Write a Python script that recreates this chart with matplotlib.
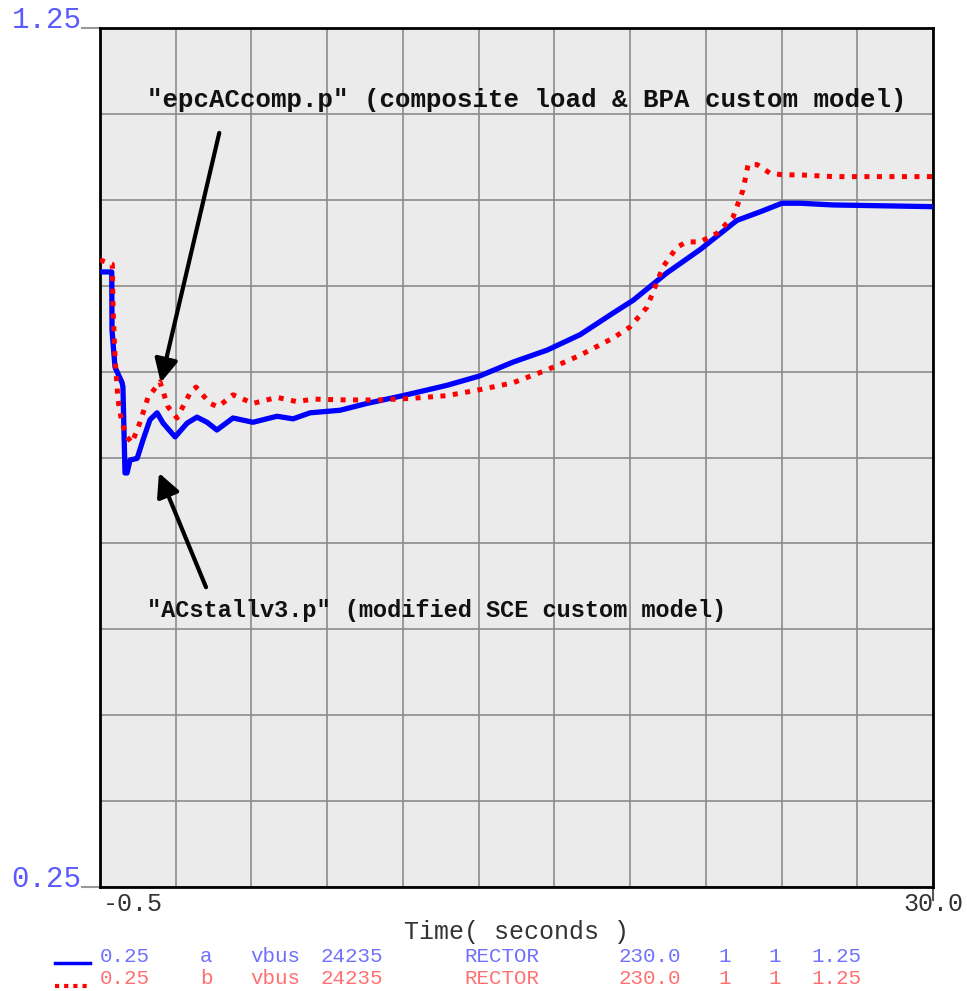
import numpy as np
import matplotlib.pyplot as plt
from matplotlib.lines import Line2D

# bus voltage, case a (ACstallv3.p) - blue
t_a = [-0.5, -0.07, -0.06, 0.05, 0.31, 0.34, 0.415, 0.49, 0.60, 0.86, 1.07, 1.33,
       1.59, 1.81, 2.25, 2.69, 3.05, 3.42, 3.78, 4.37, 5.10, 5.98, 6.57, 7.19,
       8.29, 9.28, 10.59, 12.2, 13.41, 14.62, 15.87, 17.08, 18.28, 19.02, 20.26,
       21.47, 22.82, 23.67, 24.47, 25.13, 26.34, 30.0]
v_a = [0.966, 0.966, 0.898, 0.855, 0.837, 0.832, 0.732, 0.732, 0.747, 0.749, 0.770, 0.794,
       0.802, 0.790, 0.774, 0.790, 0.797, 0.791, 0.782, 0.796, 0.791, 0.798, 0.795, 0.802,
       0.805, 0.813, 0.822, 0.834, 0.845, 0.861, 0.875, 0.893, 0.918, 0.933, 0.965,
       0.992, 1.026, 1.036, 1.046, 1.046, 1.044, 1.042]

# bus voltage, case b (epcACcomp.p) - red
t_b = [-0.5, -0.05, -0.024, 0.049, 0.159, 0.306, 0.489, 0.672, 0.965, 1.258, 1.697,
       1.99, 2.319, 2.795, 3.015, 3.528, 3.821, 4.37, 5.102, 5.981, 6.713, 7.299,
       8.544, 9.752, 10.96, 12.205, 13.414, 14.622, 15.867, 17.075, 18.284, 18.906,
       19.529, 20.114, 20.627, 20.993, 21.469, 22.09, 22.68, 23.04, 23.23, 23.56,
       24.03, 24.51, 25.13, 26.34, 30.0]
v_b = [0.980, 0.975, 0.925, 0.867, 0.817, 0.790, 0.774, 0.767, 0.791, 0.820, 0.838,
       0.809, 0.796, 0.825, 0.832, 0.813, 0.809, 0.823, 0.813, 0.820, 0.815, 0.818,
       0.817, 0.817, 0.819, 0.822, 0.829, 0.837, 0.852, 0.869, 0.889, 0.902,
       0.925, 0.972, 0.995, 1.001, 1.001, 1.011, 1.030, 1.061, 1.091, 1.091,
       1.081, 1.079, 1.079, 1.077, 1.077]

x_min, x_max = -0.5, 30.0
y_min, y_max = 0.25, 1.25

legend_cols = ['0.25', 'a', 'vbus', '24235', 'RECTOR', '230.0', '1', '1', '1.25']
legend_cols_b = ['0.25', 'b', 'vbus', '24235', 'RECTOR', '230.0', '1', '1', '1.25']
legend_x = [100, 200, 250, 321, 464, 618, 718, 768, 811]

mono = 'Liberation Mono'

fig = plt.figure(figsize=(9.67, 9.91), dpi=100)
ax = fig.add_axes([100 / 967, 1 - 887 / 991, 833 / 967, 859 / 991])
ax.set_facecolor('#ebebeb')

ax.plot(t_a, v_a, color='#0000ff', lw=3.8, solid_joinstyle='round', zorder=3)
ax.plot(t_b, v_b, color='#ff0000', lw=3.6, linestyle=(0, (1, 1.5)), zorder=4)

ax.set_xlim(x_min, x_max)
ax.set_ylim(y_min, y_max)
ax.set_xticks(np.linspace(x_min, x_max, 12))
ax.set_yticks(np.linspace(y_min, y_max, 11))
ax.tick_params(length=0, labelbottom=False, labelleft=False)
ax.grid(True, color='#8c8c8c', lw=1.2)
for s in ax.spines.values():
    s.set_color('black')
    s.set_linewidth(2)

# axis end labels
ax.text(-0.022, 1.0, '1.25', transform=ax.transAxes, ha='right', va='baseline',
        fontsize=21, color='#5a5aff', family=mono)
ax.text(-0.022, 0.0, '0.25', transform=ax.transAxes, ha='right', va='baseline',
        fontsize=21, color='#5a5aff', family=mono)
ax.plot([-0.022, 0], [1.0, 1.0], transform=ax.transAxes, color='#999999', lw=1.5, clip_on=False)
ax.plot([-0.022, 0], [0.0, 0.0], transform=ax.transAxes, color='#999999', lw=1.5, clip_on=False)
ax.plot([1, 1], [0, -0.015], transform=ax.transAxes, color='#555555', lw=1.5, clip_on=False)
ax.text(0.004, -0.02, '-0.5', transform=ax.transAxes, ha='left', va='center',
        fontsize=18, color='#333333', family=mono)
ax.text(1.0, -0.02, '30.0', transform=ax.transAxes, ha='center', va='center',
        fontsize=18, color='#333333', family=mono)
fig.text(517 / 967, 1 - 932 / 991, 'Time( seconds )', ha='center', va='center',
         fontsize=18, color='#333333', family=mono)

# annotations
ax.annotate('', xy=(1.70, 0.834), xytext=(3.89, 1.131),
            arrowprops=dict(arrowstyle='-|>', color='black', lw=3, mutation_scale=35))
ax.annotate('', xy=(1.62, 0.735), xytext=(3.42, 0.596),
            arrowprops=dict(arrowstyle='-|>', color='black', lw=3, mutation_scale=35))
fig.text(147 / 967, 1 - 100 / 991, '"epcACcomp.p" (composite load & BPA custom model)',
         ha='left', va='center', fontsize=18.5, fontweight='bold', family=mono, color='#111111')
fig.text(147 / 967, 1 - 611 / 991, '"ACstallv3.p" (modified SCE custom model)',
         ha='left', va='center', fontsize=17, fontweight='bold', family=mono, color='#111111')

# legend rows
fig.add_artist(Line2D([55 / 967, 90 / 967], [1 - 963 / 991] * 2, color='#0000ff', lw=2.5))
fig.add_artist(Line2D([55 / 967, 90 / 967], [1 - 986 / 991] * 2, color='#ff0000', lw=3,
                      linestyle=(0, (1, 1.2))))
for lbl_a, lbl_b, x in zip(legend_cols, legend_cols_b, legend_x):
    fig.text(x / 967, 1 - 957 / 991, lbl_a, ha='left', va='center', fontsize=15,
             family=mono, color='#7070ff')
    fig.text(x / 967, 1 - 979 / 991, lbl_b, ha='left', va='center', fontsize=15,
             family=mono, color='#ff7070')

plt.savefig('out.png', dpi=100)
